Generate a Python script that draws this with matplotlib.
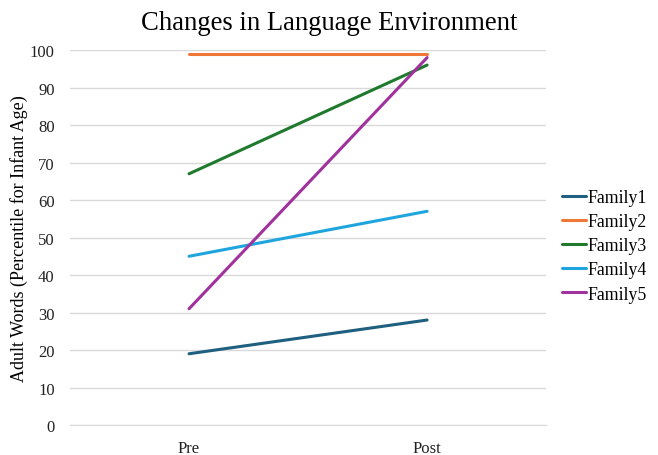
import matplotlib
matplotlib.use("Agg")
import matplotlib.pyplot as plt

plt.rcParams['font.family'] = ['Liberation Serif', 'DejaVu Serif']

categories = ["Pre", "Post"]
series_names = ["Family1", "Family2", "Family3", "Family4", "Family5"]
family1 = [19, 28]
family2 = [99, 99]
family3 = [67, 96]
family4 = [45, 57]
family5 = [31, 98]
colors = ["#1F5F7F", "#F07836", "#1F7A2E", "#1FA5DD", "#A0329E"]

fig = plt.figure(figsize=(6.58, 4.56), dpi=100)
ax = fig.add_axes([0.1064, 0.0658, 0.7236, 0.8222])

x = list(range(len(categories)))
for name, vals, c in zip(series_names, [family1, family2, family3, family4, family5], colors):
    ax.plot(x, vals, color=c, lw=2.2, label=name, solid_capstyle='round')

ax.set_xlim(-0.5, 1.5)
ax.set_ylim(0, 100)
ax.set_yticks(range(0, 101, 10))
ax.set_xticks(x)
ax.set_xticklabels(categories)
ax.grid(axis='y', color='#D9D9D9', lw=1)
ax.set_axisbelow(True)
for s in ['top', 'right', 'left']:
    ax.spines[s].set_visible(False)
ax.spines['bottom'].set_color('#D9D9D9')
ax.tick_params(axis='both', length=0, labelsize=12, colors='#222222')
ax.tick_params(axis='y', pad=11)
ax.tick_params(axis='x', pad=11)
ax.set_ylabel("Adult Words (Percentile for Infant Age)", fontsize=13)
ax.yaxis.set_label_coords(-0.088, 0.5)
fig.suptitle("Changes in Language Environment", fontsize=19.2, y=0.975)

ax.legend(loc='center left', bbox_to_anchor=(1.0, 0.478), frameon=False, fontsize=12.8,
          handlelength=1.35, handletextpad=0.05, labelspacing=0.4)

fig.savefig("out.png", dpi=100)
